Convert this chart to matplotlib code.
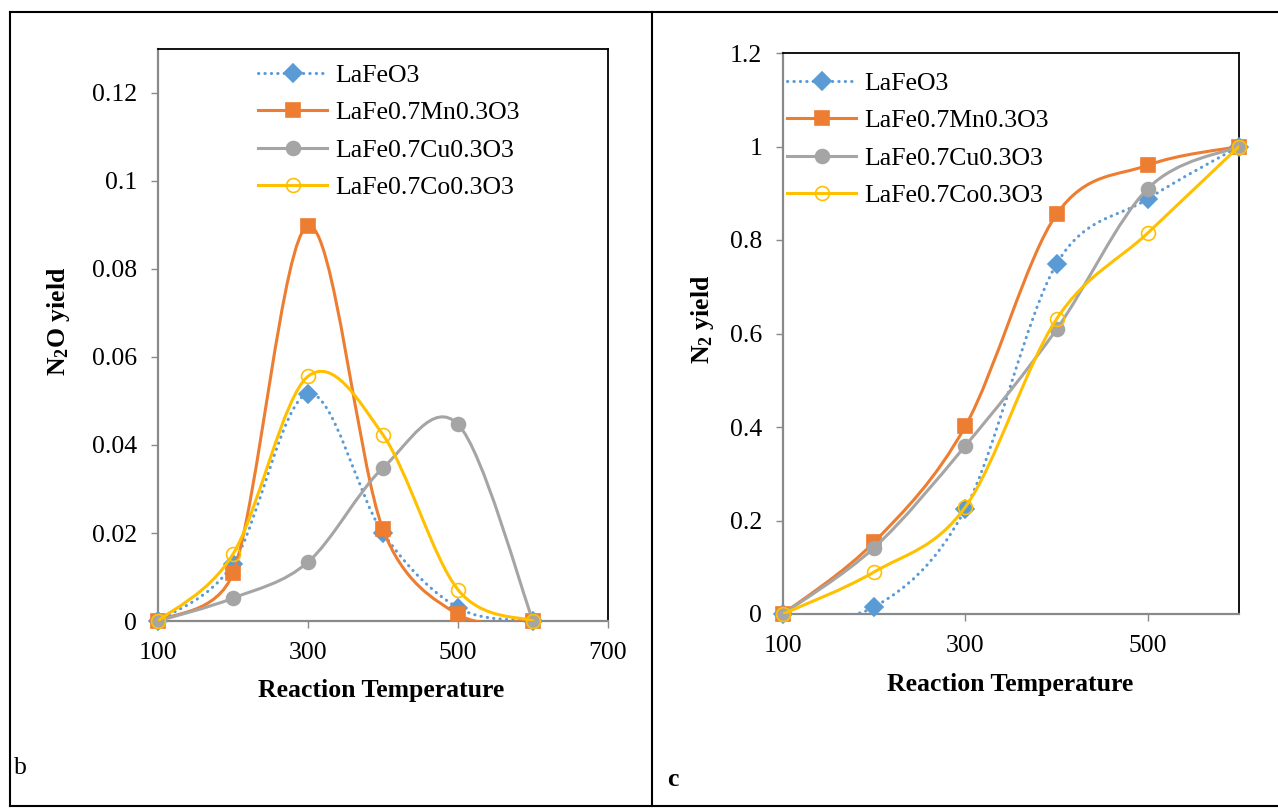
import matplotlib
matplotlib.use("Agg")
import matplotlib.pyplot as plt
import numpy as np
from matplotlib.path import Path
from matplotlib.patches import PathPatch
from matplotlib.lines import Line2D

plt.rcParams['font.family'] = ['Liberation Serif', 'DejaVu Serif']
plt.rcParams['mathtext.fontset'] = 'custom'
plt.rcParams['mathtext.rm'] = 'Liberation Serif'
plt.rcParams['mathtext.bf'] = 'Liberation Serif:bold'

temps = [100, 200, 300, 400, 500, 600]
names = ['LaFeO3', 'LaFe0.7Mn0.3O3', 'LaFe0.7Cu0.3O3', 'LaFe0.7Co0.3O3']

# N2O yield (panel b)
n2o_fe = [0, 0.013, 0.0517, 0.020, 0.003, 0]
n2o_mn = [0, 0.0109, 0.0898, 0.0208, 0.0015, 0]
n2o_cu = [0, 0.0052, 0.0134, 0.0348, 0.0447, 0]
n2o_co = [0, 0.0152, 0.0556, 0.0423, 0.0071, 0]

# N2 yield (panel c)
n2_fe = [0, 0.015, 0.225, 0.749, 0.888, 1.0]
n2_mn = [0, 0.154, 0.402, 0.855, 0.960, 1.0]
n2_cu = [0, 0.142, 0.360, 0.609, 0.910, 1.0]
n2_co = [0, 0.090, 0.229, 0.631, 0.815, 1.0]

BLUE, ORANGE, GRAY, YELLOW = '#5B9BD5', '#ED7D31', '#A5A5A5', '#FFC000'
styles = [
    dict(color=BLUE, ls=(0, (0.1, 2.0)), marker='D', ms=9, mfc=BLUE),
    dict(color=ORANGE, ls='-', marker='s', ms=10, mfc=ORANGE),
    dict(color=GRAY, ls='-', marker='o', ms=10, mfc=GRAY),
    dict(color=YELLOW, ls='-', marker='o', ms=10, mfc='none'),
]
FS = 18.5


def smooth_path(x, y, sx, sy):
    # Excel-style smoothed line (Bezier), tension limited in screen space
    pts = np.column_stack([x, y]).astype(float)
    scr = pts * [sx, sy]
    n = len(pts)
    verts = [pts[0]]
    codes = [Path.MOVETO]
    for i in range(n - 1):
        a, b, c, d = max(i - 1, 0), i, i + 1, min(i + 2, n - 1)
        d12 = np.hypot(*(scr[c] - scr[b]))
        d02 = np.hypot(*(scr[c] - scr[a]))
        d13 = np.hypot(*(scr[d] - scr[b]))
        f1 = 1 / 6 if d02 / 6 < d12 / 2 else d12 / (2 * d02)
        f2 = 1 / 6 if d13 / 6 < d12 / 2 else d12 / (2 * d13)
        verts += [pts[b] + f1 * (pts[c] - pts[a]),
                  pts[c] - f2 * (pts[d] - pts[b]), pts[c]]
        codes += [Path.CURVE4] * 3
    return Path(verts, codes)


def draw_panel(ax, series, ylim, yticks, xlim, xticks, legend_anchor, size_px):
    sx = size_px[0] / (xlim[1] - xlim[0])
    sy = size_px[1] / (ylim[1] - ylim[0])
    for k, (ys, st) in enumerate(zip(series, styles)):
        patch = PathPatch(smooth_path(temps, ys, sx, sy), fill=False,
                          edgecolor=st['color'], lw=2.2, linestyle=st['ls'],
                          capstyle='round', zorder=3 + 2 * k)
        ax.add_patch(patch)
        ax.plot(temps, ys, ls='none', marker=st['marker'], ms=st['ms'],
                mfc=st['mfc'], mec=st['color'], mew=1.2, zorder=4 + 2 * k,
                clip_on=False)
    ax.set_xlim(*xlim)
    ax.set_ylim(*ylim)
    ax.set_xticks(xticks)
    ax.set_yticks(yticks)
    ax.set_yticklabels([('%g' % v) for v in yticks])
    for s in ['left', 'bottom']:
        ax.spines[s].set_color('#898989')
        ax.spines[s].set_linewidth(1.6)
    for s in ['top', 'right']:
        ax.spines[s].set_color('black')
        ax.spines[s].set_linewidth(1.3)
    ax.tick_params(axis='both', which='major', direction='out', length=5,
                   width=1, color='#898989', labelsize=FS, pad=10)
    ax.tick_params(top=False, right=False)
    handles = [Line2D([], [], color=st['color'], lw=2.2, ls=st['ls'],
                      dash_capstyle='round', marker=st['marker'], ms=st['ms'],
                      mfc=st['mfc'], mec=st['color'], mew=1.2)
               for st in styles]
    ax.legend(handles, names, loc='upper left', bbox_to_anchor=legend_anchor,
              frameon=False, fontsize=FS, borderpad=0, borderaxespad=0,
              handlelength=2.7, handletextpad=0.3, labelspacing=0.56,
              numpoints=1)


fig = plt.figure(figsize=(12.78, 8.09), dpi=100)
W, H = 1278.0, 809.0


def px_axes(x0, y0, x1, y1):
    return fig.add_axes([x0 / W, 1 - y1 / H, (x1 - x0) / W, (y1 - y0) / H])


ax1 = px_axes(158, 49, 608, 621)
draw_panel(ax1, [n2o_fe, n2o_mn, n2o_cu, n2o_co], (0, 0.13),
           [0, 0.02, 0.04, 0.06, 0.08, 0.1, 0.12], (100, 700),
           [100, 300, 500, 700], (0.222, 0.974), (450, 572))

ax2 = px_axes(783, 53, 1239, 614)
draw_panel(ax2, [n2_fe, n2_mn, n2_cu, n2_co], (0, 1.2),
           [0, 0.2, 0.4, 0.6, 0.8, 1.0, 1.2], (100, 600),
           [100, 300, 500], (0.009, 0.966), (456, 561))

# axis titles
fig.text(381 / W, 1 - 690 / H, 'Reaction Temperature', ha='center', va='center',
         fontsize=FS, fontweight='bold')
fig.text(1010 / W, 1 - 685 / H, 'Reaction Temperature', ha='center', va='center',
         fontsize=FS, fontweight='bold')
fig.text(58 / W, 1 - 321 / H, r'$\mathbf{N_2O}$ yield', ha='center', va='center',
         rotation=90, fontsize=FS, fontweight='bold')
fig.text(702 / W, 1 - 319 / H, r'$\mathbf{N_2}$ yield', ha='center', va='center',
         rotation=90, fontsize=FS, fontweight='bold')

# panel letters
fig.text(14 / W, 1 - 768 / H, 'b', ha='left', va='center', fontsize=FS)
fig.text(667 / W, 1 - 780 / H, 'c', ha='left', va='center', fontsize=FS,
         fontweight='bold')

# table borders around the two panels
for xs, ys in [((10, 1278), (12, 12)), ((10, 10), (12, 806)),
               ((652, 652), (12, 806)), ((10, 1278), (806, 806))]:
    fig.add_artist(Line2D([x / W for x in xs], [1 - y / H for y in ys],
                          color='black', lw=1.5))

fig.savefig('out.png', dpi=100)
